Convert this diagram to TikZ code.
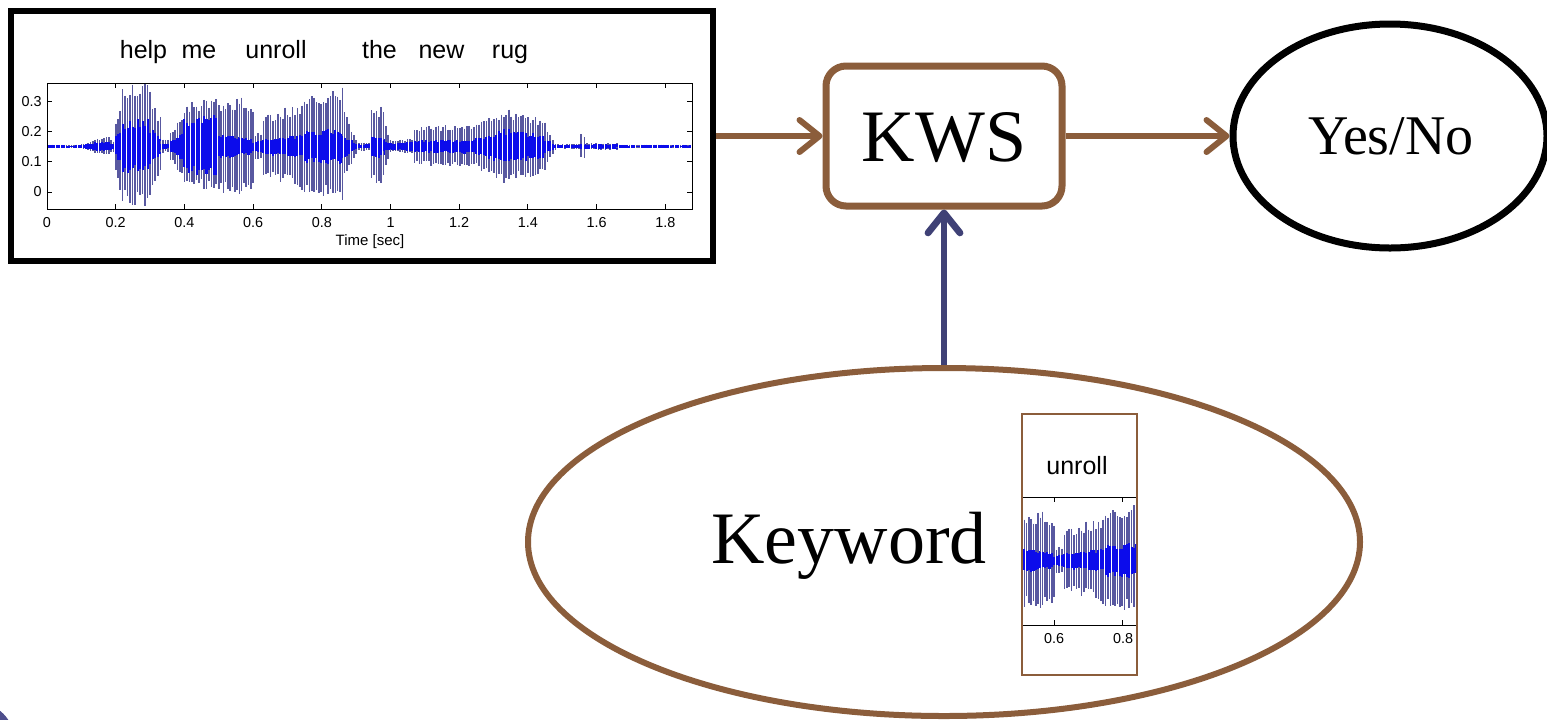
\documentclass[tikz,border=0pt]{standalone}
\usepackage{fontspec}
\setmainfont{Liberation Serif}
\newfontfamily\plotfont{Liberation Sans}
\usetikzlibrary{arrows.meta,shapes.geometric}
\definecolor{kbrown}{RGB}{139,93,59}
\definecolor{knavy}{RGB}{63,65,118}
\definecolor{kcircle}{RGB}{78,78,140}
\definecolor{wavegray}{RGB}{88,88,160}
\definecolor{wavecore}{RGB}{12,12,235}
\tikzset{
  wavestroke/.style={wavegray, line width=0.8pt},
  corestroke/.style={wavecore, line width=1.05pt},
  axisline/.style={black, line width=0.5pt},
  ticklabel/.style={font=\plotfont\fontsize{7.2}{8}\selectfont, inner sep=0pt},
  titleword/.style={font=\plotfont\fontsize{12.5}{14}\selectfont, inner sep=0pt, anchor=base},
  brownarrow/.style={draw=kbrown, line width=3pt, -{Straight Barb[length=10pt,width=16pt,round]}},
  navyarrow/.style={draw=knavy, line width=3.4pt, -{Straight Barb[length=10pt,width=16pt,round]}},
  bigtext/.style={font=\fontsize{37}{40}\selectfont, inner sep=0pt, anchor=base},
}
\newcommand\kwave{%
  \pgfmathsetseed{42}%
  \foreach \ta/\tb/\aa/\ab/\ca/\cb in {
    0/0.1/1.5/1.5/1/1,
    0.1/0.14/2/6/1.5/3,
    0.14/0.18/7/9/4/5,
    0.18/0.2/8/4/4/2,
    0.2/0.22/25/55/10/22,
    0.22/0.3/58/60/26/28,
    0.3/0.33/52/28/20/8,
    0.33/0.36/7/5/3/2,
    0.36/0.4/14/32/6/16,
    0.4/0.5/42/46/28/32,
    0.5/0.56/46/48/14/10,
    0.56/0.6/48/44/9/8,
    0.6/0.63/12/16/5/6,
    0.63/0.75/30/44/8/12,
    0.75/0.86/46/56/16/18,
    0.86/0.9/40/8/12/3,
    0.9/0.945/4/4/2/2,
    0.945/0.98/36/38/12/10,
    0.98/1.0/30/6/6/3,
    1.0/1.07/5/8/3/5,
    1.07/1.25/19/21/6/7,
    1.25/1.33/22/36/8/18,
    1.33/1.45/37/26/18/12,
    1.45/1.48/20/3/8/2,
    1.48/1.555/2/2/1.5/1.5,
    1.555/1.565/12/12/3/3,
    1.565/1.66/3/3/2/2,
    1.66/1.88/1.5/1.5/1/1}{%
    \pgfmathtruncatemacro\wn{max(1,round((\tb-\ta)/0.007))}%
    \foreach \wi in {0,...,\wn}{%
      \pgfmathsetmacro\wx{47+343.5*(\ta+(\tb-\ta)*\wi/\wn)}%
      \pgfmathsetmacro\wam{\aa+(\ab-\aa)*\wi/\wn}%
      \pgfmathsetmacro\wcm{\ca+(\cb-\ca)*\wi/\wn}%
      \pgfmathsetmacro\wup{\wam*(0.75+0.3*rnd)+0.3}%
      \pgfmathsetmacro\wdn{\wam*(0.72+0.28*rnd)+0.3}%
      \draw[wavestroke] (\wx,146.5-\wup) -- (\wx,146.5+\wdn);
      \pgfmathsetmacro\wcu{\wcm*(0.65+0.35*rnd)+0.3}%
      \pgfmathsetmacro\wcd{\wcm*(0.65+0.35*rnd)+0.3}%
      \draw[corestroke] (\wx,146.5-\wcu) -- (\wx,146.5+\wcd);
    }%
  }%
}
\begin{document}
\begin{tikzpicture}[x=0.5pt,y=-0.5pt]
\useasboundingbox (0,0) rectangle (1547,719);
\fill[white] (0,0) rectangle (1547,719);

% ---------- speech waveform panel ----------
\node[draw=black, line width=3.25pt, minimum width=351pt, minimum height=125pt, inner sep=0pt] (speech) at (362,136) {};
\foreach \w/\px in {help/143.5, me/199, unroll/276, the/379.5, new/441.5, rug/510}{
  \node[titleword] (title-\w) at (\px,58) {\w};
}
\begin{scope}
  \clip (47,83) rectangle (692,209);
  \kwave
\end{scope}
\draw[axisline] (47,83) rectangle (692,209);
\foreach \k in {0,...,9}{
  \pgfmathsetmacro\tx{47+68.7*\k}
  \draw[axisline] (\tx,209) -- (\tx,204);
  \draw[axisline] (\tx,83) -- (\tx,88);
}
\foreach \k/\lab in {0/0,1/0.2,2/0.4,3/0.6,4/0.8,5/1,6/1.2,7/1.4,8/1.6,9/1.8}{
  \pgfmathsetmacro\tx{47+68.7*\k}
  \node[ticklabel, anchor=base] (xl\k) at (\tx,227) {\lab};
}
\foreach \v/\lab in {0/0,1/0.1,2/0.2,3/0.3}{
  \pgfmathsetmacro\ty{192-30.3*\v}
  \draw[axisline] (47,\ty) -- (52,\ty);
  \draw[axisline] (692,\ty) -- (687,\ty);
  \node[ticklabel, anchor=east] (yl\v) at (42,\ty) {\lab};
}
\node[ticklabel, font=\plotfont\fontsize{7.5}{8}\selectfont] (xlabel) at (370,242) {Time [sec]};

% ---------- KWS box ----------
\node[draw=kbrown, line width=3.5pt, rounded corners=10pt, minimum width=118pt, minimum height=70pt, inner sep=0pt] (kws) at (944,136) {};
\node[bigtext] (kwstext) at (944,161) {KWS};

% ---------- Yes/No ellipse ----------
\node[ellipse, draw=black, line width=3.5pt, minimum width=157pt, minimum height=112pt, inner sep=0pt] (yesno) at (1390,136) {};
\node[font=\fontsize{28}{30}\selectfont, inner sep=0pt, anchor=base] (yesnotext) at (1391,154) {Yes/No};

% ---------- Keyword ellipse ----------
\node[ellipse, draw=kbrown, line width=3pt, minimum width=416pt, minimum height=174pt, inner sep=0pt] (kwell) at (944,542) {};
\node[bigtext] (kwtext) at (849,563) {Keyword};

% small keyword waveform
\node[draw=kbrown, line width=1.2pt, minimum width=57.5pt, minimum height=130.5pt, inner sep=0pt] (kwimg) at (1079.5,544.5) {};
\begin{scope}
  \clip (1023,497) rectangle (1136,625);
  \begin{scope}[shift={(801,414)}]
    \kwave
  \end{scope}
\end{scope}
\draw[axisline] (1023,497) -- (1136,497);
\draw[axisline] (1023,625) -- (1136,625);
\draw[axisline] (1054,497) -- (1054,502);
\draw[axisline] (1122,497) -- (1122,502);
\draw[axisline] (1054,625) -- (1054,620);
\draw[axisline] (1122,625) -- (1122,620);
\node[titleword] (kwword) at (1077,474) {unroll};
\node[ticklabel, anchor=base] (kx1) at (1054,643) {0.6};
\node[ticklabel, anchor=base] (kx2) at (1123,643) {0.8};

% ---------- connectors ----------
\draw[brownarrow] (speech.east |- kws.west) -- (kws.west);
\draw[brownarrow] (kws.east) -- (yesno.west);
\draw[navyarrow] (kwell.north) -- (kws.south);

% slide-number circle remnant
\fill[kcircle] (-25,742) circle[radius=20pt];
\end{tikzpicture}
\end{document}
